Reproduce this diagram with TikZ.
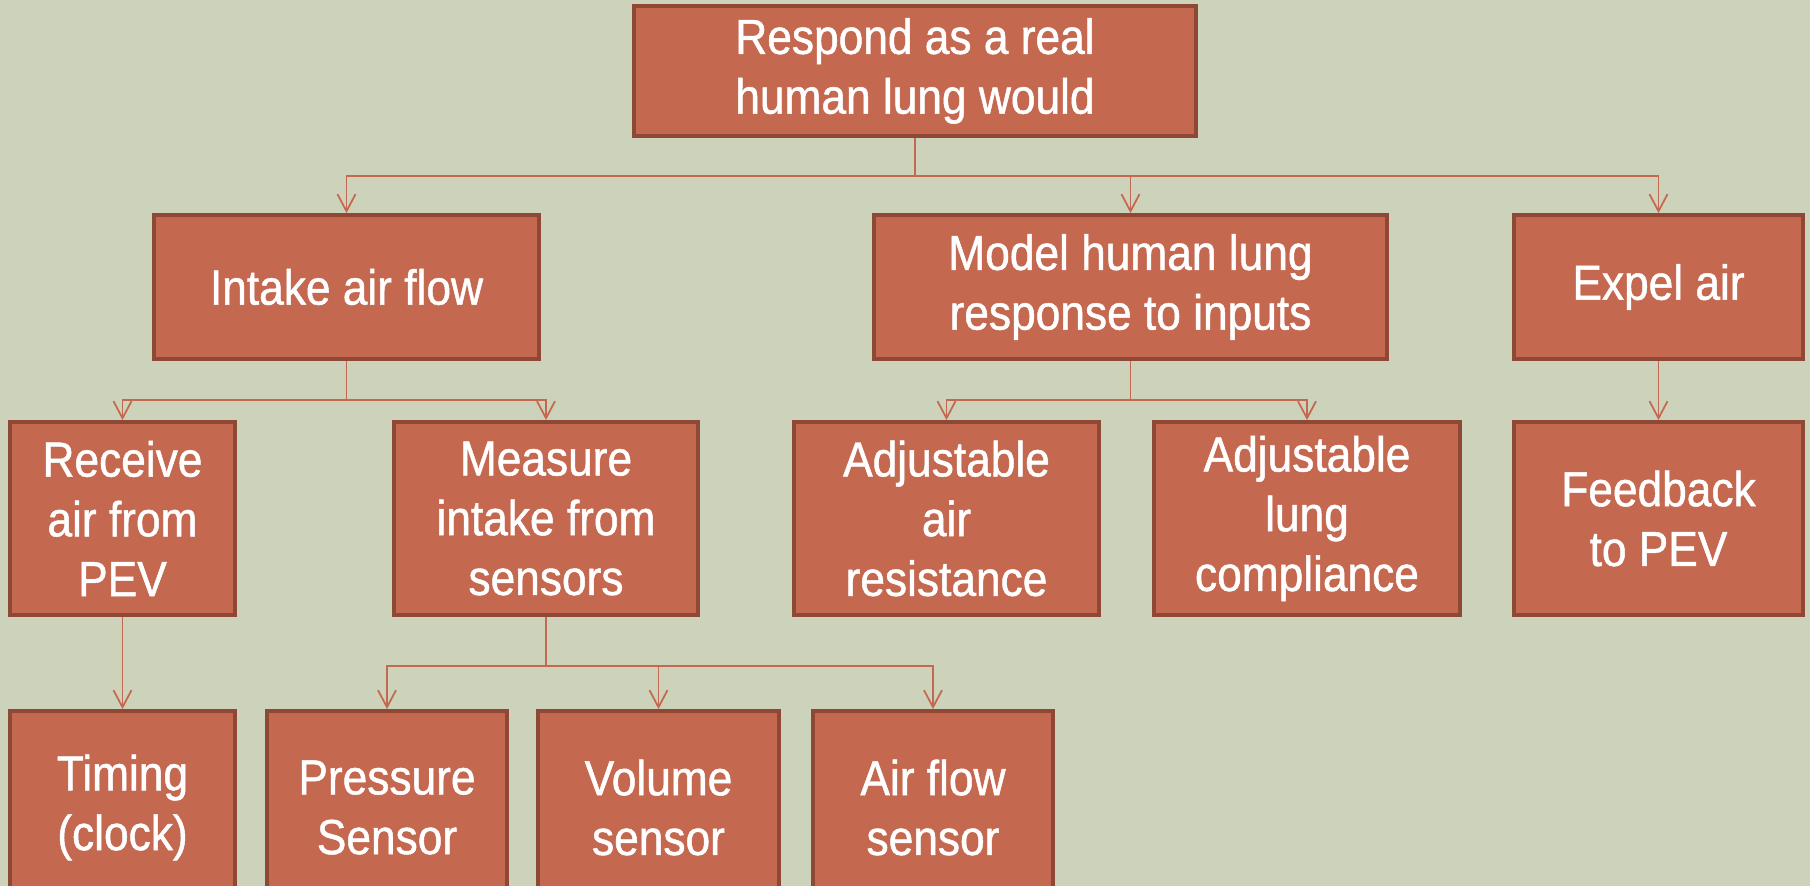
\documentclass[tikz,border=0pt]{standalone}
\usepackage{fontspec}
\usepackage{tikz}
\newfontfamily\boxfont{Liberation Sans}[FakeBold=1, FakeStretch=0.9]
\usetikzlibrary{arrows.meta, positioning, calc}
\definecolor{bgcol}{RGB}{204,211,186}
\definecolor{boxfill}{RGB}{197,104,80}
\definecolor{boxedge}{RGB}{142,72,54}
\definecolor{linkcol}{RGB}{197,104,80}

\begin{document}
\begin{tikzpicture}[x=0.02cm, y=-0.02cm,
  box/.style={draw=boxedge, fill=boxfill, line width=2.2pt, text=white, align=center,
    inner sep=0pt, font=\boxfont\fontsize{28}{34}\selectfont},
  rowa/.style={box, minimum height=2.88cm},
  rowb/.style={box, minimum height=3.86cm},
  link/.style={draw=linkcol, line width=1pt, -{Straight Barb[length=3.4mm,width=3.6mm]}}]
  \clip (0,0) rectangle (1810,886);
  \fill[bgcol] (0,0) rectangle (1810,886);
  \node[box, minimum width=11.24cm, minimum height=2.6cm] (respond) at (915,71) {Respond as a real\\human lung would};
  \node[rowa, minimum width=7.70cm]  (intake) at (346.5,287)  {Intake air flow};
  \node[rowa, minimum width=10.26cm] (model)  at (1130.5,287) {Model human lung\\response to inputs};
  \node[rowa, minimum width=5.78cm]  (expel)  at (1658.5,287) {Expel air};
  \node[rowb, minimum width=4.50cm]  (receive)  at (122.5,518.5)  {Receive\\air from\\PEV};
  \node[rowb, minimum width=6.08cm]  (measure)  at (546,518.5)    {Measure\\intake from\\sensors};
  \node[rowb, minimum width=6.10cm]  (adjair)   at (946.5,518.5)  {Adjustable\\air\\resistance};
  \node[rowb, minimum width=6.12cm]  (adjlung)  at (1307,518.5)   {Adjustable\\lung\\compliance};
  \node[rowb, minimum width=5.78cm]  (feedback) at (1658.5,518.5) {Feedback\\to PEV};
  \node[rowb, minimum width=4.50cm]  (timing)   at (122.5,807.5)  {Timing\\(clock)};
  \node[rowb, minimum width=4.80cm]  (pressure) at (387,807.5)    {Pressure\\Sensor};
  \node[rowb, minimum width=4.82cm]  (volume)   at (658.5,807.5)  {Volume\\sensor};
  \node[rowb, minimum width=4.80cm]  (airflow)  at (933,807.5)    {Air flow\\sensor};
  \draw[link] (respond.south) -- ++(0,38) -| (intake.north);
  \draw[link] (respond.south) -- ++(0,38) -| (model.north);
  \draw[link] (respond.south) -- ++(0,38) -| (expel.north);
  \draw[link] (intake.south) -- ++(0,39) -| (receive.north);
  \draw[link] (intake.south) -- ++(0,39) -| (measure.north);
  \draw[link] (model.south) -- ++(0,39) -| (adjair.north);
  \draw[link] (model.south) -- ++(0,39) -| (adjlung.north);
  \draw[link] (expel.south) -- (feedback.north);
  \draw[link] (receive.south) -- (timing.north);
  \draw[link] (measure.south) -- ++(0,49) -| (pressure.north);
  \draw[link] (measure.south) -- ++(0,49) -| (volume.north);
  \draw[link] (measure.south) -- ++(0,49) -| (airflow.north);
\end{tikzpicture}
\end{document}
